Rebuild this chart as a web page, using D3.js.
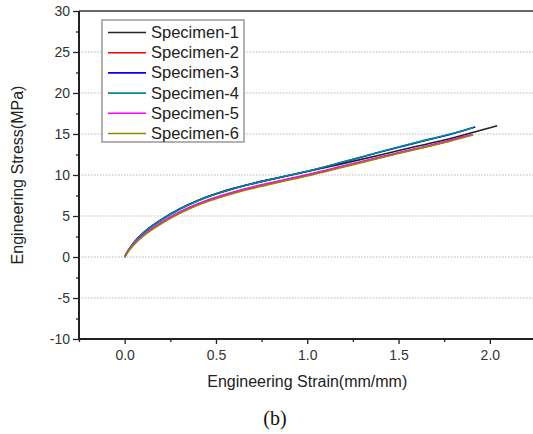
<!DOCTYPE html>
<html>
<head>
<meta charset="utf-8">
<script src="https://cdn.jsdelivr.net/npm/d3@7"></script>
<style>
  body { margin: 0; background: #fff; }
  svg { display: block; }
</style>
</head>
<body>
<div id="canvas"></div>
<script>
"use strict"

/* Data */
let specimenNames = ["Specimen-1", "Specimen-2", "Specimen-3", "Specimen-4", "Specimen-5", "Specimen-6"];
let specimenColors = ["#222222", "#ff0000", "#0000ff", "#008b8b", "#ff00ff", "#8b8b00"];

// common strain grid (mm/mm) up to 1.8, each specimen then has its own end point
let strain = [0, 0.02, 0.05, 0.1, 0.2, 0.3, 0.4, 0.5, 0.6, 0.7, 0.8, 0.9, 1.0, 1.2, 1.4, 1.6, 1.8];

let stress1 = [0, 0.8, 1.75, 2.9, 4.55, 5.85, 6.9, 7.72, 8.4, 8.97, 9.47, 9.95, 10.42, 11.42, 12.45, 13.5, 14.55];
let stress2 = [0, 0.72, 1.55, 2.6, 4.15, 5.4, 6.4, 7.2, 7.88, 8.46, 8.98, 9.48, 9.97, 11.05, 12.15, 13.2, 14.3];
let stress3 = [0, 0.8, 1.72, 2.88, 4.5, 5.82, 6.86, 7.68, 8.36, 8.94, 9.46, 9.96, 10.45, 11.6, 12.8, 13.95, 15.05];
let stress4 = [0, 0.8, 1.72, 2.88, 4.5, 5.82, 6.86, 7.68, 8.36, 8.94, 9.46, 9.96, 10.46, 11.62, 12.84, 14.0, 15.1];
let stress5 = [0, 0.74, 1.6, 2.66, 4.22, 5.48, 6.48, 7.28, 7.96, 8.54, 9.06, 9.56, 10.05, 11.12, 12.2, 13.25, 14.35];
let stress6 = [0, 0.68, 1.48, 2.52, 4.05, 5.3, 6.3, 7.1, 7.78, 8.36, 8.88, 9.38, 9.88, 10.98, 12.08, 13.15, 14.25];

let endStrain = [2.04, 1.86, 1.92, 1.91, 1.9, 1.91];
let endStress = [16.0, 14.8, 15.85, 15.8, 14.95, 14.9];

let xTicks = [0.0, 0.5, 1.0, 1.5, 2.0];
let xMinorTicks = [-0.25, 0.25, 0.75, 1.25, 1.75];
let yTicks = [-10, -5, 0, 5, 10, 15, 20, 25, 30];
let yMinorTicks = [-7.5, -2.5, 2.5, 7.5, 12.5, 17.5, 22.5, 27.5];

/* Drawing configuration */
let svgWidth = 533;
let svgHeight = 434;
let plotLeft = 79;
let plotTop = 11;
let plotBottom = 339;
let fontSans = "Arial, 'Liberation Sans', sans-serif";

let svg = d3.select("#canvas")
    .append("svg")
    .attr("width", svgWidth)
    .attr("height", svgHeight);

/* Scales */
let xScale = d3.scaleLinear()
    .domain([-0.25, 2.25])
    .range([plotLeft, plotLeft + 456.5]);

let yScale = d3.scaleLinear()
    .domain([-10, 30])
    .range([plotBottom, plotTop]);

/* Horizontal dotted grid */
svg.append("g")
  .selectAll("line")
  .data(yTicks.filter(function(d){ return d > -10 && d < 30; }))
  .enter()
  .append("line")
  .attr("x1", plotLeft)
  .attr("x2", svgWidth)
  .attr("y1", function(d){ return yScale(d); })
  .attr("y2", function(d){ return yScale(d); })
  .attr("stroke", "#b8b8b8")
  .attr("stroke-width", 1)
  .attr("stroke-dasharray", "1.5,1.5");

/* Top frame */
svg.append("line")
  .attr("x1", plotLeft)
  .attr("x2", svgWidth)
  .attr("y1", yScale(30))
  .attr("y2", yScale(30))
  .attr("stroke", "#666")
  .attr("stroke-width", 2);

/* Curves */
let line = d3.line()
  .x(function(d){ return xScale(d[0]); })
  .y(function(d){ return yScale(d[1]); })
  .curve(d3.curveMonotoneX);

let allStress = [stress1, stress2, stress3, stress4, stress5, stress6];

for (let i = 0; i < allStress.length; i = i + 1) {
  let pts = strain.map(function(s, j){ return [s, allStress[i][j]]; });
  pts.push([endStrain[i], endStress[i]]);
  svg.append("path")
    .datum(pts)
    .attr("fill", "none")
    .attr("stroke", specimenColors[i])
    .attr("stroke-width", 1.6)
    .attr("d", line);
}

/* Axes */
let xAxis = svg.append("g")
  .attr("transform", "translate(0," + plotBottom + ")")
  .call(d3.axisBottom(xScale)
    .tickValues(xTicks)
    .tickSize(5)
    .tickPadding(6)
    .tickFormat(d3.format(".1f")));

xAxis.select(".domain")
  .attr("d", "M" + plotLeft + ",0H" + svgWidth)
  .attr("stroke", "#222")
  .attr("stroke-width", 2);

svg.append("g")
  .attr("transform", "translate(0," + plotBottom + ")")
  .call(d3.axisBottom(xScale).tickValues(xMinorTicks).tickSize(3).tickFormat(""))
  .select(".domain").remove();

let yAxis = svg.append("g")
  .attr("transform", "translate(" + plotLeft + ",0)")
  .call(d3.axisLeft(yScale)
    .tickValues(yTicks)
    .tickSize(6)
    .tickPadding(3)
    .tickFormat(function(d){ return String(d); })); // plain hyphen for negatives

yAxis.select(".domain")
  .attr("d", "M0," + plotTop + "V" + plotBottom)
  .attr("stroke", "#222")
  .attr("stroke-width", 2);

svg.append("g")
  .attr("transform", "translate(" + plotLeft + ",0)")
  .call(d3.axisLeft(yScale).tickValues(yMinorTicks).tickSize(3).tickFormat(""))
  .select(".domain").remove();

svg.selectAll(".tick line")
  .attr("stroke", "#222")
  .attr("stroke-width", 1.3);

svg.selectAll(".tick text")
  .style("font-family", fontSans)
  .style("font-size", "14px")
  .attr("fill", "#333");

/* Axis titles */
svg.append("text")
  .attr("x", xScale(1.0))
  .attr("y", 387)
  .attr("text-anchor", "middle")
  .style("font-family", fontSans)
  .style("font-size", "16px")
  .attr("fill", "#222")
  .text("Engineering Strain(mm/mm)");

svg.append("text")
  .attr("transform", "translate(23," + ((plotTop + plotBottom) / 2) + ") rotate(-90)")
  .attr("text-anchor", "middle")
  .style("font-family", fontSans)
  .style("font-size", "16px")
  .attr("fill", "#222")
  .text("Engineering Stress(MPa)");

svg.append("text")
  .attr("x", 275)
  .attr("y", 425)
  .attr("text-anchor", "middle")
  .style("font-family", "'Times New Roman', 'Liberation Serif', serif")
  .style("font-size", "20px")
  .attr("fill", "#111")
  .text("(b)");

/* Legend */
let legendX = 102;
let legendY = 20;

svg.append("rect")
  .attr("x", legendX)
  .attr("y", legendY)
  .attr("width", 142)
  .attr("height", 122)
  .attr("fill", "#fff")
  .attr("stroke", "#999")
  .attr("stroke-width", 1.5);

for (let i = 0; i < specimenNames.length; i = i + 1) {
  let rowY = legendY + 12.5 + i * 20.2;
  svg.append("line")
    .attr("x1", legendX + 6)
    .attr("x2", legendX + 44)
    .attr("y1", rowY)
    .attr("y2", rowY)
    .attr("stroke", specimenColors[i])
    .attr("stroke-width", 1.6);
  svg.append("text")
    .attr("x", legendX + 49)
    .attr("y", rowY + 5.5)
    .style("font-family", fontSans)
    .style("font-size", "16.5px")
    .attr("fill", "#222")
    .text(specimenNames[i]);
}
</script>
</body>
</html>
